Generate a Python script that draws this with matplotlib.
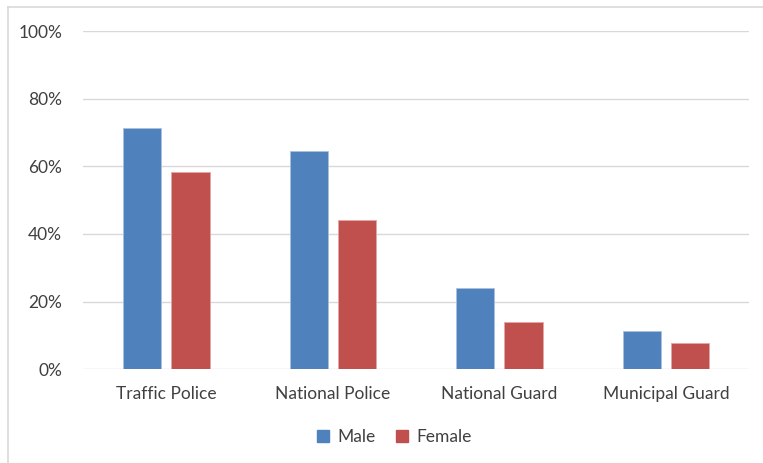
import matplotlib.pyplot as plt
import numpy as np
from matplotlib.patches import Patch
from matplotlib.lines import Line2D
from matplotlib.ticker import PercentFormatter

categories = ['Traffic Police', 'National Police', 'National Guard', 'Municipal Guard']
male = [0.714, 0.644, 0.240, 0.113]
female = [0.584, 0.442, 0.141, 0.078]

blue = '#4F81BD'
red = '#C0504D'
text_color = '#404040'

plt.rcParams['font.family'] = ['Lato', 'DejaVu Sans']

fig = plt.figure(figsize=(7.63, 4.63), dpi=100)
ax = fig.add_axes([0.1088, 0.2024, 0.873, 0.7306])

x = np.arange(len(categories))
w = 0.23
ax.bar(x - 0.145, male, w, color=blue, edgecolor='#A9C0DE', linewidth=0.6, zorder=3)
ax.bar(x + 0.145, female, w, color=red, edgecolor='#E3A7A5', linewidth=0.6, zorder=3)

ax.set_xlim(-0.5, len(categories) - 0.5)
ax.set_ylim(0, 1)
ax.set_yticks(np.arange(0, 1.01, 0.2))
ax.yaxis.set_major_formatter(PercentFormatter(1.0, decimals=0))
ax.set_xticks(x)
ax.set_xticklabels(categories)
ax.tick_params(axis='both', length=0, labelsize=12.5, colors=text_color)
ax.tick_params(axis='y', pad=15)
ax.tick_params(axis='x', pad=12)
ax.grid(axis='y', color='#D9D9D9', linewidth=1, zorder=0)
for s in ax.spines.values():
    s.set_visible(False)

handles = [Patch(color=blue, label='Male'), Patch(color=red, label='Female')]
fig.legend(handles=handles, loc='center', bbox_to_anchor=(0.517, 0.056), ncol=2,
           frameon=False, fontsize=12.5, handlelength=0.65, handleheight=0.65,
           handletextpad=0.5, columnspacing=1.2, labelcolor=text_color)

# outer chart border (top and left edges visible)
fig.add_artist(Line2D([8 / 763, 1], [456 / 463, 456 / 463], transform=fig.transFigure,
                      color='#D9D9D9', linewidth=1.2))
fig.add_artist(Line2D([8 / 763, 8 / 763], [0, 456 / 463], transform=fig.transFigure,
                      color='#D9D9D9', linewidth=1.2))

fig.savefig('out.png', dpi=100)
